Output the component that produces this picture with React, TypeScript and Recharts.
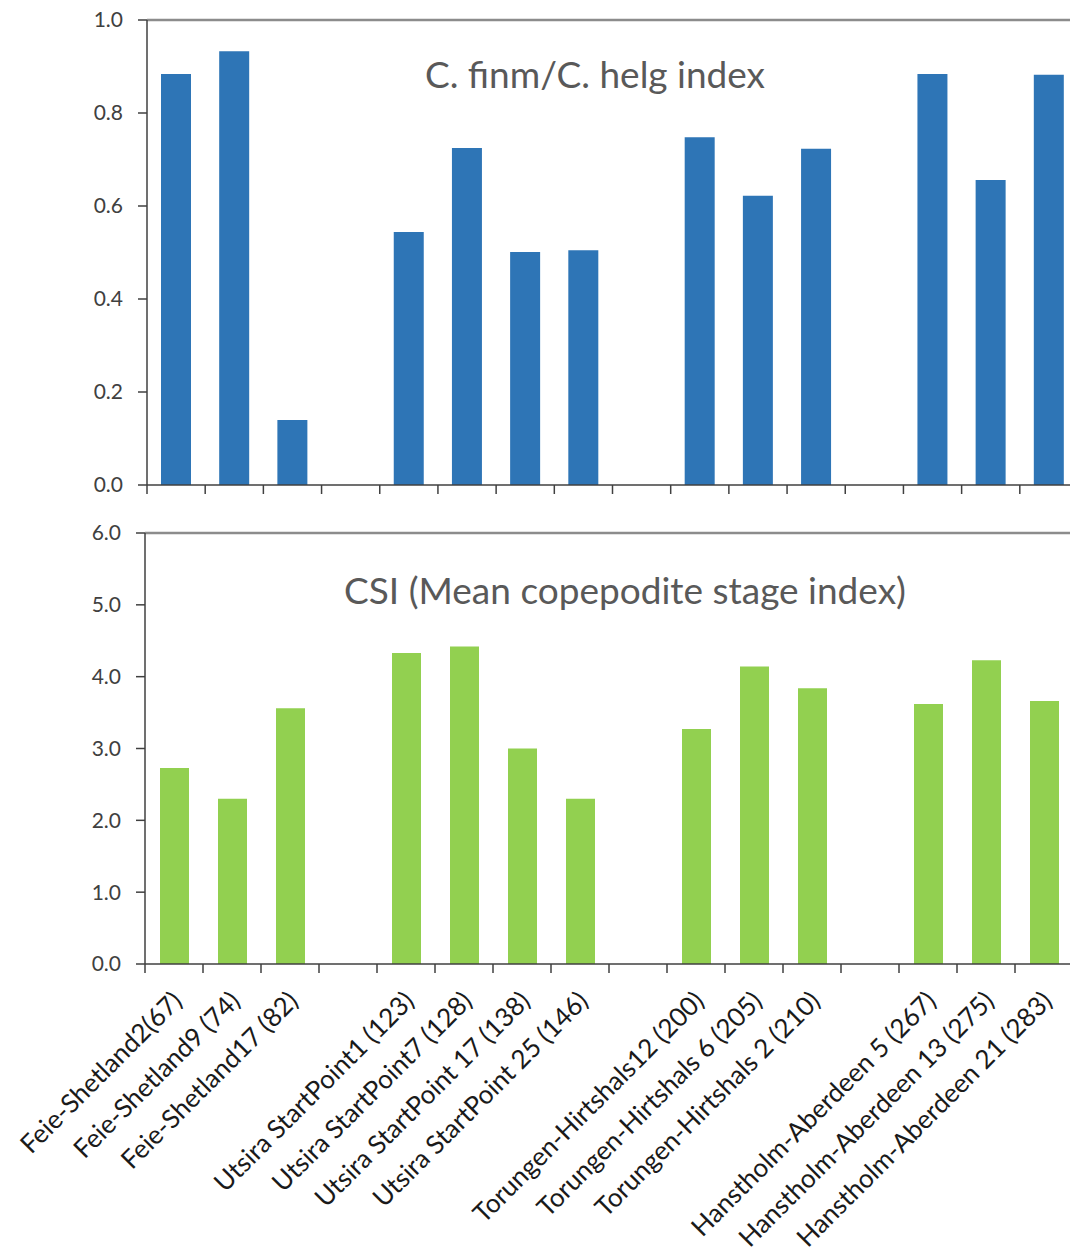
import React from "react";
import { BarChart, Bar, XAxis, YAxis, ReferenceLine } from "recharts";

const categories = [
  "Feie-Shetland2(67)",
  "Feie-Shetland9 (74)",
  "Feie-Shetland17 (82)",
  "",
  "Utsira StartPoint1 (123)",
  "Utsira StartPoint7 (128)",
  "Utsira StartPoint 17 (138)",
  "Utsira StartPoint 25 (146)",
  "",
  "Torungen-Hirtshals12 (200)",
  "Torungen-Hirtshals 6 (205)",
  "Torungen-Hirtshals 2 (210)",
  "",
  "Hanstholm-Aberdeen 5 (267)",
  "Hanstholm-Aberdeen 13 (275)",
  "Hanstholm-Aberdeen 21 (283)",
];

const finmHelgIndex: (number | null)[] = [
  0.884, 0.933, 0.14, null, 0.544, 0.725, 0.501, 0.505, null, 0.748, 0.622, 0.723, null, 0.884, 0.656, 0.882,
];

const csiIndex: (number | null)[] = [
  2.73, 2.3, 3.56, null, 4.33, 4.42, 3.0, 2.3, null, 3.27, 4.14, 3.84, null, 3.62, 4.23, 3.66,
];

const topTicks = [0, 0.2, 0.4, 0.6, 0.8, 1.0];
const bottomTicks = [0, 1, 2, 3, 4, 5, 6];

const topData = categories.map((c, i) => ({ id: i, label: c, value: finmHelgIndex[i] }));
const bottomData = categories.map((c, i) => ({ id: i, label: c, value: csiIndex[i] }));

const FONT = "Lato, 'Open Sans', sans-serif";
const AXIS = "#404040";
const TICK = 9;

const TOP_W = 1078;
const TOP_LEFT = 147;
const BOT_W = 1073;
const BOT_LEFT = 145;
const topHalf = (TOP_W - TOP_LEFT) / categories.length / 2;
const botHalf = (BOT_W - BOT_LEFT) / categories.length / 2;

const TopTick = (props: any) => {
  const { x, y } = props;
  const lx = x - topHalf;
  return <line x1={lx} x2={lx} y1={y - TICK} y2={y} stroke={AXIS} strokeWidth={1.5} />;
};

const BottomTick = (props: any) => {
  const { x, y, payload } = props;
  const lx = x - botHalf;
  const label = categories[payload.value] || "";
  return (
    <g>
      <line x1={lx} x2={lx} y1={y - TICK} y2={y} stroke={AXIS} strokeWidth={1.5} />
      <g transform={`translate(${x + 4},${y + 24})`}>
        <text
          transform="rotate(-45)"
          textAnchor="end"
          fontSize={26}
          fill="#1a1a1a"
          fontFamily={FONT}
          dy={8}
        >
          {label}
        </text>
      </g>
    </g>
  );
};

const titleStyle: React.CSSProperties = {
  position: "absolute",
  fontFamily: FONT,
  fontSize: 37,
  color: "#595959",
  whiteSpace: "nowrap",
  transform: "translateX(-50%)",
  lineHeight: 1,
};

export default function App() {
  return (
    <div
      style={{
        position: "absolute",
        left: 0,
        top: 0,
        width: 1070,
        height: 1252,
        overflow: "hidden",
        background: "#fff",
      }}
    >
      <div style={{ position: "absolute", left: 0, top: 0 }}>
        <BarChart
          width={TOP_W}
          height={500}
          data={topData}
          margin={{ top: 20, right: 0, bottom: 0, left: 0 }}
          barSize={30}
        >
          <ReferenceLine y={1} stroke="#8c8c8c" strokeWidth={2.5} />
          <XAxis
            dataKey="id"
            height={15}
            tick={<TopTick />}
            tickSize={TICK}
            tickMargin={0}
            tickLine={false}
            axisLine={{ stroke: AXIS, strokeWidth: 1.5 }}
            interval={0}
          />
          <YAxis
            width={TOP_LEFT}
            domain={[0, 1]}
            ticks={topTicks}
            tickFormatter={(v: number) => v.toFixed(1)}
            tickSize={TICK}
            tickMargin={15}
            tick={{ fontSize: 21, fill: AXIS, fontFamily: FONT }}
            axisLine={{ stroke: AXIS, strokeWidth: 1.5 }}
            tickLine={{ stroke: AXIS, strokeWidth: 1.5 }}
            allowDataOverflow
          />
          <Bar dataKey="value" fill="#2E75B6" isAnimationActive={false} />
        </BarChart>
      </div>
      <div style={{ position: "absolute", left: 0, top: 0 }}>
        <BarChart
          width={BOT_W}
          height={1252}
          data={bottomData}
          margin={{ top: 533, right: 0, bottom: 0, left: 0 }}
          barSize={29}
        >
          <ReferenceLine y={6} stroke="#8c8c8c" strokeWidth={2.5} />
          <XAxis
            dataKey="id"
            height={288}
            tick={<BottomTick />}
            tickSize={TICK}
            tickMargin={0}
            tickLine={false}
            axisLine={{ stroke: AXIS, strokeWidth: 1.5 }}
            interval={0}
          />
          <YAxis
            width={BOT_LEFT}
            domain={[0, 6]}
            ticks={bottomTicks}
            tickFormatter={(v: number) => v.toFixed(1)}
            tickSize={TICK}
            tickMargin={15}
            tick={{ fontSize: 21, fill: AXIS, fontFamily: FONT }}
            axisLine={{ stroke: AXIS, strokeWidth: 1.5 }}
            tickLine={{ stroke: AXIS, strokeWidth: 1.5 }}
            allowDataOverflow
          />
          <Bar dataKey="value" fill="#92D050" isAnimationActive={false} />
        </BarChart>
      </div>
      <div style={{ ...titleStyle, left: 595, top: 55 }}>C. finm/C. helg index</div>
      <div style={{ ...titleStyle, left: 625, top: 571 }}>CSI (Mean copepodite stage index)</div>
    </div>
  );
}
